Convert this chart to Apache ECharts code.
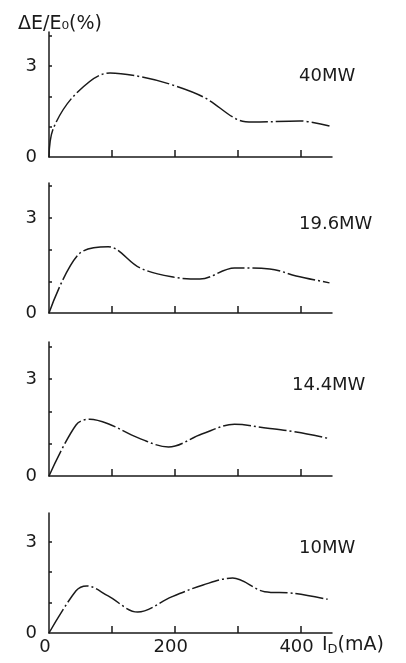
<!DOCTYPE html>
<html>
<head>
<meta charset="utf-8">
<script src="https://cdn.jsdelivr.net/npm/echarts@6/dist/echarts.min.js"></script>
<style>
  html, body { margin: 0; padding: 0; background: #fff; }
  #chart { width: 406px; height: 663px; }
</style>
</head>
<body>
<div id="chart"></div>
<script>
// beam current I_D (mA) and energy spread dE/E0 (%)
var x40 = [0, 7, 44, 97, 147, 197, 248, 298, 324, 398, 446];
var y40 = [0, 0.95, 2.11, 2.77, 2.64, 2.37, 1.95, 1.25, 1.15, 1.19, 1.02];

var x196 = [0, 46, 94, 144, 195, 240, 295, 351, 393, 446];
var y196 = [0, 1.83, 2.09, 1.43, 1.14, 1.07, 1.42, 1.39, 1.17, 0.95];

var x144 = [0, 43, 65, 94, 141, 190, 243, 295, 348, 393, 443];
var y144 = [0, 1.58, 1.76, 1.62, 1.19, 0.9, 1.3, 1.6, 1.48, 1.36, 1.17];

var x10 = [0, 43, 60, 94, 141, 195, 245, 292, 343, 387, 443];
var y10 = [0, 1.39, 1.55, 1.22, 0.69, 1.19, 1.58, 1.81, 1.36, 1.31, 1.11];

var panelNames = ["40MW", "19.6MW", "14.4MW", "10MW"];
var xTicks = [100, 200, 300, 400];
var xTickLabels = [0, 200, 400];
var yTicks = [1, 2, 3, 4];
var yTickLabels = [0, 3];

var chart = echarts.init(document.getElementById("chart"));

var ink = "#1a1a1a";
var font = "DejaVu Sans";

// grid boxes (top, height, y max) for the four stacked panels
var panels = [
  { top: 32, height: 125, max: 4.12, label: 74 },
  { top: 183, height: 130, max: 4.1, label: 222 },
  { top: 342, height: 134, max: 4.15, label: 383 },
  { top: 513, height: 120, max: 3.95, label: 546 }
];
var seriesX = [x40, x196, x144, x10];
var seriesY = [y40, y196, y144, y10];

function pairs(xs, ys) {
  var out = [];
  for (var i = 0; i < xs.length; i++) out.push([xs[i], ys[i]]);
  return out;
}

var grids = [], xAxes = [], yAxes = [], series = [], titles = [];

titles.push({
  text: "ΔE/E₀(%)",
  left: 13,
  top: 10,
  textStyle: { fontFamily: font, fontSize: 19, fontWeight: "normal", color: ink }
});

panels.forEach(function (p, i) {
  var last = i === panels.length - 1;
  grids.push({ left: 49, width: 283, top: p.top, height: p.height });

  xAxes.push({
    type: "value",
    gridIndex: i,
    min: 0,
    max: 450,
    axisLine: { show: true, lineStyle: { color: ink, width: 1.5 } },
    axisTick: {
      show: true,
      inside: true,
      length: 7,
      customValues: xTicks,
      lineStyle: { color: ink, width: 1.5 }
    },
    axisLabel: {
      show: last,
      customValues: xTickLabels,
      margin: 5,
      padding: [0, 8, 0, 0],
      fontFamily: font,
      fontSize: 18,
      color: ink
    },
    splitLine: { show: false }
  });

  yAxes.push({
    type: "value",
    gridIndex: i,
    min: 0,
    max: p.max,
    axisLine: { show: true, lineStyle: { color: ink, width: 1.5 } },
    axisTick: {
      show: true,
      inside: true,
      length: 3,
      customValues: yTicks.filter(function (v) { return v <= p.max; }),
      lineStyle: { color: ink, width: 1.5 }
    },
    axisLabel: {
      customValues: yTickLabels,
      margin: 12,
      fontFamily: font,
      fontSize: 18,
      color: ink
    },
    splitLine: { show: false }
  });

  series.push({
    type: "line",
    xAxisIndex: i,
    yAxisIndex: i,
    data: pairs(seriesX[i], seriesY[i]),
    smooth: 0.35,
    showSymbol: false,
    lineStyle: { color: ink, width: 1.5, type: [28, 3, 2, 3] },
    animation: false
  });

  titles.push({
    text: panelNames[i],
    left: i === 2 ? 287 : 294,
    top: p.label - 12,
    textStyle: { fontFamily: font, fontSize: 18, fontWeight: "normal", color: ink }
  });
});

chart.setOption({
  backgroundColor: "#fff",
  animation: false,
  title: titles,
  grid: grids,
  xAxis: xAxes,
  yAxis: yAxes,
  series: series,
  graphic: [{
    type: "text",
    left: 322,
    top: 636,
    style: {
      text: "I{d|D}(mA)",
      font: "19px " + font,
      fill: ink,
      rich: { d: { fontSize: 13, fontFamily: font, verticalAlign: "bottom", padding: [8, 0, 0, 0] } }
    }
  }]
});
</script>
</body>
</html>
